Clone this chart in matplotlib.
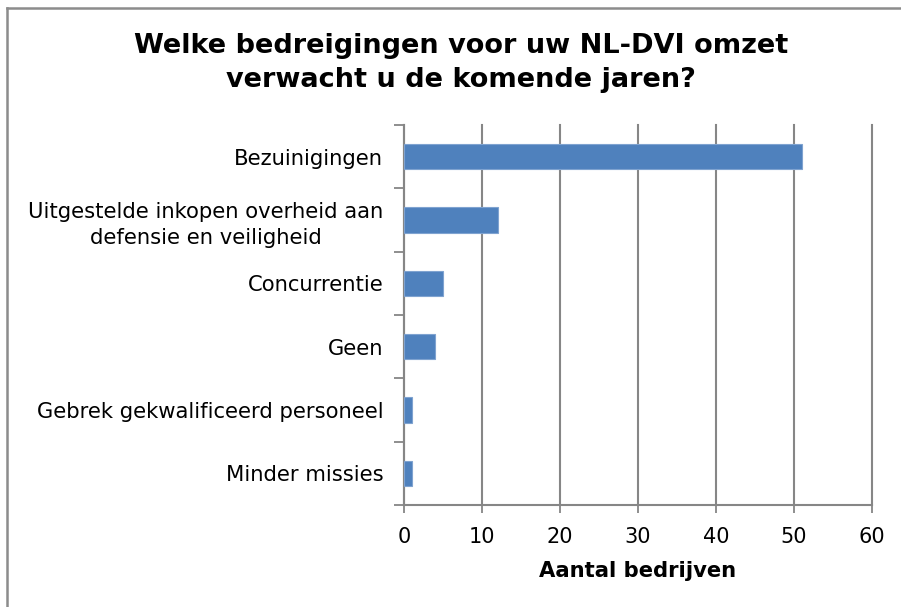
import matplotlib
matplotlib.use("Agg")
import matplotlib.pyplot as plt
from matplotlib.lines import Line2D
import numpy as np

categories = ["Bezuinigingen",
              "Uitgestelde inkopen overheid aan\ndefensie en veiligheid",
              "Concurrentie",
              "Geen",
              "Gebrek gekwalificeerd personeel",
              "Minder missies"]
values = [51, 12, 5, 4, 1, 1]
xticks = [0, 10, 20, 30, 40, 50, 60]
title = "Welke bedreigingen voor uw NL-DVI omzet\nverwacht u de komende jaren?"
xlabel = "Aantal bedrijven"

W, H = 901, 607
fig = plt.figure(figsize=(W / 100, H / 100), dpi=100)
fig.patch.set_facecolor("white")

# outer chart border (only top and left visible, image is cropped)
bcol = "#8c8c8c"
fig.add_artist(Line2D([7 / W, 1.0], [1 - 8 / H, 1 - 8 / H], transform=fig.transFigure,
                      color=bcol, linewidth=1.8))
fig.add_artist(Line2D([7 / W, 7 / W], [0.0, 1 - 8 / H], transform=fig.transFigure,
                      color=bcol, linewidth=1.8))

left, right, top, bottom = 404, 872, 125, 505
ax = fig.add_axes([left / W, (H - bottom) / H, (right - left) / W, (bottom - top) / H])

grid_col = "#868686"
n = len(categories)
pos = np.arange(n)
ax.barh(pos, values, height=0.4, color="#4F81BD", edgecolor="#7fa3d0",
        linewidth=0.8, zorder=3)

ax.set_xlim(0, 60)
ax.set_ylim(n - 0.5, -0.5)
ax.set_xticks(xticks)
ax.set_xticklabels([str(t) for t in xticks], fontsize=15)
ax.tick_params(axis="x", length=6, width=1.3, color=grid_col, pad=10)

ax.set_yticks(np.arange(-0.5, n, 1.0))
ax.set_yticklabels([])
ax.tick_params(axis="y", which="major", length=7, width=1.3, color=grid_col)
ax.set_yticks(pos, minor=True)
ax.set_yticklabels(categories, minor=True, fontsize=15.2, multialignment="center",
                   linespacing=1.35)
ax.tick_params(axis="y", which="minor", length=0, pad=15)

ax.grid(axis="x", color=grid_col, linewidth=1.5, zorder=0)
for gl in ax.get_xgridlines():
    gl.set_clip_on(False)
ax.set_axisbelow(True)
for s in ["top", "right"]:
    ax.spines[s].set_visible(False)
for s in ["left", "bottom"]:
    ax.spines[s].set_color(grid_col)
    ax.spines[s].set_linewidth(1.5)

ax.set_xlabel(xlabel, fontsize=15.2, fontweight="bold", labelpad=10)

fig.text(461 / W, 1 - 63 / H, title, ha="center", va="center",
         fontsize=19.5, fontweight="bold", linespacing=1.4)

fig.savefig("out.png", dpi=100, facecolor="white")
